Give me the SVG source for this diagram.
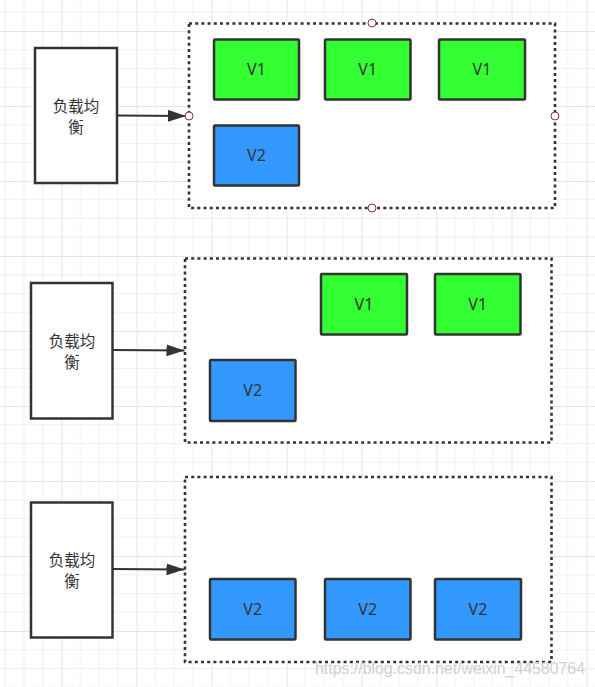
<svg xmlns="http://www.w3.org/2000/svg" width="595" height="687" viewBox="0 0 595 687">
  <defs>
    <pattern id="grid" patternUnits="userSpaceOnUse" x="61.5" y="31" width="75" height="75">
      <rect x="0" y="0" width="75" height="75" fill="#ffffff"/>
      <g fill="#f1f1f1">
        <rect x="18.25" y="0" width="1" height="75"/>
        <rect x="37" y="0" width="1" height="75"/>
        <rect x="55.75" y="0" width="1" height="75"/>
        <rect x="0" y="18.25" width="75" height="1"/>
        <rect x="0" y="37" width="75" height="1"/>
        <rect x="0" y="55.75" width="75" height="1"/>
      </g>
      <g fill="#e5e5e5">
        <rect x="0" y="0" width="1" height="75"/>
        <rect x="0" y="0" width="75" height="1"/>
      </g>
    </pattern>
    <marker id="arrow" markerUnits="userSpaceOnUse" markerWidth="20" markerHeight="14" refX="18" refY="6" orient="auto">
      <path d="M0,0 L18,6 L0,12 Z" fill="#333333"/>
    </marker>
    <style>
      .lb { fill: #ffffff; stroke: #333333; stroke-width: 2.5; }
      .grp { fill: #ffffff; stroke: #333333; stroke-width: 2.6; stroke-dasharray: 3 3.2; }
      .v1 { fill: #33ff33; stroke: #333333; stroke-width: 2.5; }
      .v2 { fill: #3399ff; stroke: #333333; stroke-width: 2.5; }
      .cn { font-family: "Noto Sans CJK SC", "Noto Sans", sans-serif; font-size: 15.5px; fill: #333333; text-anchor: middle; }
      .vt { font-family: "Noto Sans", "Liberation Sans", sans-serif; font-size: 16px; fill: #333333; text-anchor: middle; }
      .conn { stroke: #333333; stroke-width: 2; fill: none; }
      .pt { fill: #ffffff; stroke: #8b3a3a; stroke-width: 1; }
      .wm { font-family: "Liberation Sans", Arial, sans-serif; font-size: 15.8px; fill: #d0d0d0; }
    </style>
  </defs>

  <rect x="0" y="0" width="595" height="687" fill="url(#grid)"/>

  <!-- Panel 1 -->
  <g id="lb1">
    <rect class="lb" x="35" y="48" width="82" height="135"/>
    <text class="cn" x="76" y="111.5">负载均</text>
    <text class="cn" x="76" y="132.5">衡</text>
  </g>
  <g id="group1">
    <rect class="grp" x="189" y="23.5" width="366" height="184.5"/>
  </g>
  <g id="p1v1a">
    <rect class="v1" x="214" y="39.5" width="85" height="60" rx="1"/>
    <text class="vt" x="256.5" y="75">V1</text>
  </g>
  <g id="p1v1b">
    <rect class="v1" x="325" y="39.5" width="85.5" height="60" rx="1"/>
    <text class="vt" x="367.75" y="75">V1</text>
  </g>
  <g id="p1v1c">
    <rect class="v1" x="439" y="39.5" width="86" height="60" rx="1"/>
    <text class="vt" x="482" y="75">V1</text>
  </g>
  <g id="p1v2a">
    <rect class="v2" x="214" y="125.5" width="85" height="60" rx="1"/>
    <text class="vt" x="256.5" y="161">V2</text>
  </g>

  <!-- Panel 2 -->
  <g id="lb2">
    <rect class="lb" x="31" y="283" width="81.5" height="135.5"/>
    <text class="cn" x="72" y="346.5">负载均</text>
    <text class="cn" x="72" y="367.5">衡</text>
  </g>
  <g id="group2">
    <rect class="grp" x="185" y="258.5" width="366.5" height="184"/>
  </g>
  <g id="p2v1a">
    <rect class="v1" x="321" y="274" width="86" height="60.5" rx="1"/>
    <text class="vt" x="364" y="310">V1</text>
  </g>
  <g id="p2v1b">
    <rect class="v1" x="435" y="274" width="85.5" height="60.5" rx="1"/>
    <text class="vt" x="477.75" y="310">V1</text>
  </g>
  <g id="p2v2a">
    <rect class="v2" x="210" y="360" width="85.5" height="61" rx="1"/>
    <text class="vt" x="252.75" y="396">V2</text>
  </g>

  <!-- Panel 3 -->
  <g id="lb3">
    <rect class="lb" x="31" y="502.5" width="81.5" height="135"/>
    <text class="cn" x="72" y="565.5">负载均</text>
    <text class="cn" x="72" y="586.5">衡</text>
  </g>
  <g id="group3">
    <rect class="grp" x="185" y="477" width="366.5" height="185"/>
  </g>
  <g id="p3v2a">
    <rect class="v2" x="210" y="579" width="85.5" height="60.5" rx="1"/>
    <text class="vt" x="252.75" y="615">V2</text>
  </g>
  <g id="p3v2b">
    <rect class="v2" x="325" y="579" width="85.5" height="60.5" rx="1"/>
    <text class="vt" x="367.75" y="615">V2</text>
  </g>
  <g id="p3v2c">
    <rect class="v2" x="435" y="579" width="86" height="60.5" rx="1"/>
    <text class="vt" x="478" y="615">V2</text>
  </g>

  <!-- Connectors -->
  <g id="connectors">
    <line class="conn" x1="117" y1="115.5" x2="186" y2="116" marker-end="url(#arrow)"/>
    <line class="conn" x1="112.5" y1="350" x2="184.5" y2="350.5" marker-end="url(#arrow)"/>
    <line class="conn" x1="112.5" y1="569" x2="184.5" y2="569.5" marker-end="url(#arrow)"/>
  </g>

  <!-- Selection handles on panel 1 container -->
  <g id="handles">
    <circle class="pt" cx="372" cy="23" r="4"/>
    <circle class="pt" cx="189" cy="116" r="4"/>
    <circle class="pt" cx="555" cy="116" r="4"/>
    <circle class="pt" cx="372" cy="208" r="4"/>
  </g>

  <text class="wm" x="315" y="674" textLength="270" lengthAdjust="spacingAndGlyphs">https://blog.csdn.net/weixin_44580764</text>
</svg>
